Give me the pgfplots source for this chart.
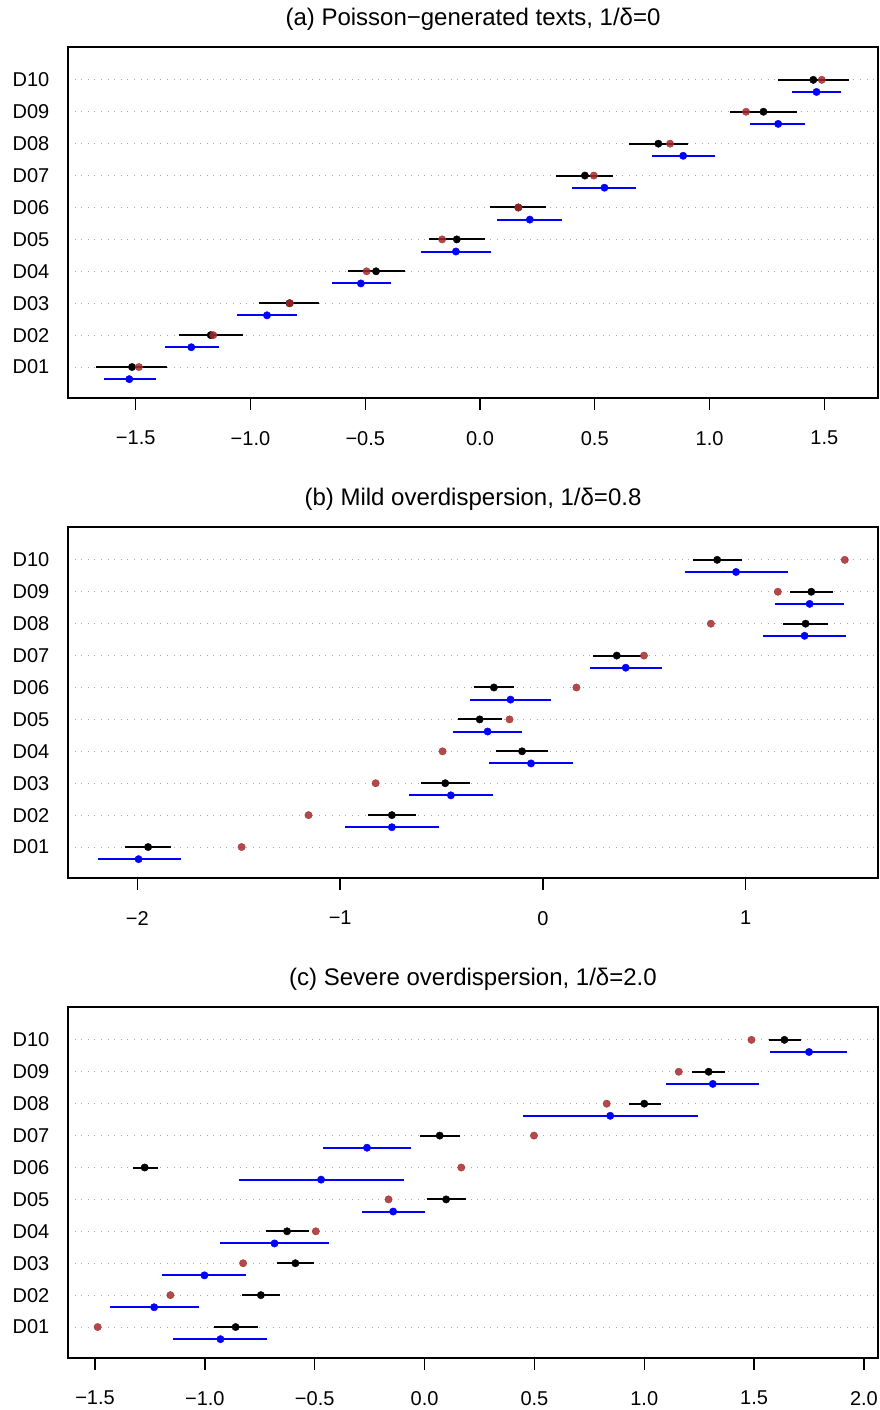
\documentclass[border=0pt]{standalone}
\usepackage{pgfplots}
\usepackage{pgfplotstable}
\pgfplotsset{compat=1.18}
\usepackage{fontspec}
\setmainfont{Liberation Sans}
\definecolor{truecol}{RGB}{165,42,42}
\definecolor{gridgray}{RGB}{170,170,170}

\pgfplotstableread{
k tr b blo bhi u ulo uhi
1 -1.486 -1.516 -1.672 -1.365 -1.528 -1.637 -1.413
2 -1.162 -1.173 -1.310 -1.034 -1.258 -1.374 -1.139
3 -0.828 -0.830 -0.965 -0.700 -0.928 -1.059 -0.796
4 -0.494 -0.453 -0.574 -0.327 -0.519 -0.647 -0.386
5 -0.165 -0.101 -0.222 0.023 -0.105 -0.258 0.048
6 0.167 0.167 0.043 0.288 0.217 0.073 0.359
7 0.496 0.457 0.332 0.581 0.542 0.400 0.681
8 0.828 0.777 0.647 0.908 0.885 0.750 1.022
9 1.159 1.235 1.091 1.383 1.299 1.175 1.418
10 1.489 1.452 1.297 1.608 1.466 1.361 1.571
}\tabA

\pgfplotstableread{
k tr b blo bhi u ulo uhi
1 -1.486 -1.947 -2.061 -1.836 -1.994 -2.195 -1.785
2 -1.156 -0.745 -0.861 -0.627 -0.745 -0.978 -0.513
3 -0.825 -0.482 -0.601 -0.361 -0.454 -0.660 -0.245
4 -0.495 -0.103 -0.230 0.026 -0.059 -0.266 0.147
5 -0.165 -0.312 -0.418 -0.201 -0.273 -0.446 -0.101
6 0.165 -0.242 -0.340 -0.142 -0.160 -0.361 0.041
7 0.498 0.364 0.245 0.482 0.408 0.232 0.588
8 0.828 1.295 1.184 1.406 1.290 1.086 1.496
9 1.158 1.323 1.220 1.432 1.315 1.145 1.486
10 1.488 0.859 0.738 0.980 0.952 0.699 1.207
}\tabB

\pgfplotstableread{
k tr b blo bhi u ulo uhi
1 -1.488 -0.860 -0.957 -0.760 -0.929 -1.143 -0.717
2 -1.157 -0.745 -0.833 -0.657 -1.231 -1.431 -1.026
3 -0.826 -0.588 -0.671 -0.505 -1.002 -1.195 -0.812
4 -0.495 -0.626 -0.724 -0.526 -0.683 -0.931 -0.433
5 -0.164 0.098 0.010 0.188 -0.143 -0.286 0.002
6 0.167 -1.274 -1.329 -1.214 -0.471 -0.845 -0.095
7 0.498 0.069 -0.021 0.162 -0.262 -0.464 -0.062
8 0.829 1.000 0.929 1.074 0.845 0.450 1.245
9 1.157 1.293 1.217 1.369 1.312 1.098 1.524
10 1.488 1.638 1.569 1.712 1.750 1.574 1.924
}\tabC

\pgfplotsset{
  panel/.style={
    scale only axis,
    width=810pt, height=351pt,
    ymin=0.03, ymax=11.03,
    ytick={1,2,3,4,5,6,7,8,9,10},
    yticklabels={D01,D02,D03,D04,D05,D06,D07,D08,D09,D10},
    axis line style={line width=1.4pt},
    ytick style={draw=none},
    xtick style={line width=1.4pt, black},
    xtick pos=bottom, ytick pos=left,
    tick align=outside,
    major tick length=12pt,
    ymajorgrids,
    grid style={gridgray, line width=1pt, dash pattern=on 1pt off 5.6pt},
    yticklabel style={font=\fontsize{20}{24}\selectfont, anchor=east, inner sep=0pt, xshift=-6.5pt},
    xticklabel style={font=\fontsize{20}{24}\selectfont, anchor=north, inner sep=0pt, yshift=-21pt},
    title style={font=\fontsize{24}{28}\selectfont, at={(0.5,1)}, anchor=base, yshift=15pt},
    clip=false,
  },
  ebar/.style={only marks, mark=*, mark size=3.7pt,
    error bars/x dir=both, error bars/x explicit, error bars/error mark=none,
    error bars/error bar style={line width=2pt, #1}},
}

\newcommand{\panelplots}[1]{%
  \addplot[ebar=black, color=black, mark options={fill=black, draw=black}]
    table[x=b, y=k, x error plus expr=\thisrow{bhi}-\thisrow{b}, x error minus expr=\thisrow{b}-\thisrow{blo}] {#1};
  \addplot[ebar=blue, color=blue, mark options={fill=blue, draw=blue}]
    table[x=u, y expr=\thisrow{k}-0.38, x error plus expr=\thisrow{uhi}-\thisrow{u}, x error minus expr=\thisrow{u}-\thisrow{ulo}] {#1};
  \addplot[only marks, mark=*, mark size=3.7pt, color=truecol, mark options={fill=truecol, draw=truecol, opacity=0.85}]
    table[x=tr, y=k] {#1};
}

\begin{document}
\begin{tikzpicture}[x=1pt,y=1pt]
\useasboundingbox (0,0) rectangle (879,1410);

\begin{axis}[panel, at={(68pt,1012pt)}, anchor=south west,
  xmin=-1.795, xmax=1.734,
  xtick={-1.5,-1,-0.5,0,0.5,1,1.5},
  xticklabels={−1.5,−1.0,−0.5,0.0,0.5,1.0,1.5},
  title={(a) Poisson−generated texts, 1/δ=0}]
\panelplots{\tabA}
\end{axis}

\begin{axis}[panel, at={(68pt,532pt)}, anchor=south west,
  xmin=-2.342, xmax=1.652,
  xtick={-2,-1,0,1},
  xticklabels={−2,−1,0,1},
  title={(b) Mild overdispersion, 1/δ=0.8}]
\panelplots{\tabB}
\end{axis}

\begin{axis}[panel, at={(68pt,52pt)}, anchor=south west,
  xmin=-1.623, xmax=2.064,
  xtick={-1.5,-1,-0.5,0,0.5,1,1.5,2},
  xticklabels={−1.5,−1.0,−0.5,0.0,0.5,1.0,1.5,2.0},
  title={(c) Severe overdispersion, 1/δ=2.0}]
\panelplots{\tabC}
\end{axis}
\end{tikzpicture}
\end{document}
